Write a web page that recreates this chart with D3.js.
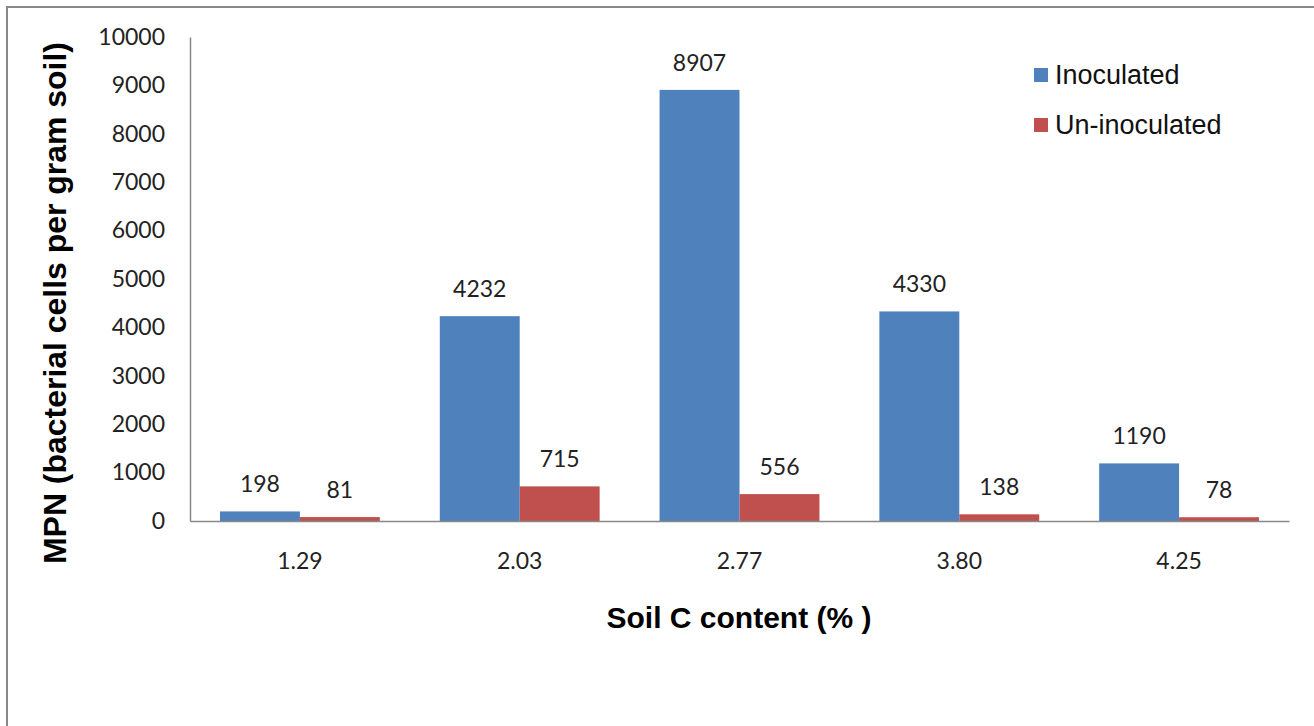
<!DOCTYPE html>
<html>
<head>
<meta charset="utf-8">
<script src="https://cdn.jsdelivr.net/npm/d3@7"></script>
<style>
  html, body { margin: 0; padding: 0; background: #fff; }
  svg { display: block; }
</style>
</head>
<body>
<div id="chart"></div>
<script>
const w = 1314, h = 726;
const categories = ["1.29", "2.03", "2.77", "3.80", "4.25"];
const seriesNames = ["Inoculated", "Un-inoculated"];
const inoculated = [198, 4232, 8907, 4330, 1190];
const uninoculated = [81, 715, 556, 138, 78];
const yTicks = [0, 1000, 2000, 3000, 4000, 5000, 6000, 7000, 8000, 9000, 10000];
const colors = ["#4f81bd", "#c0504d"];

const plot = { left: 190, right: 1289, top: 37, bottom: 521 };
const numFont = "Lato, 'Open Sans', sans-serif";
const txtFont = "'Liberation Sans', Arial, sans-serif";

const rows = categories.map((c, i) => ({ cat: c, values: [inoculated[i], uninoculated[i]] }));

const svg = d3.select("#chart").append("svg").attr("width", w).attr("height", h);

// chart-area border (right & bottom run off the picture)
svg.append("rect")
  .attr("x", 7).attr("y", 7)
  .attr("width", w + 20).attr("height", h + 20)
  .attr("fill", "none").attr("stroke", "#888").attr("stroke-width", 2);

const x0 = d3.scaleBand().domain(categories)
  .range([plot.left, plot.right])
  .paddingInner(0.2727).paddingOuter(0.1364);
const x1 = d3.scaleBand().domain(seriesNames).range([0, x0.bandwidth()]);
const y = d3.scaleLinear().domain([0, 10000]).range([plot.bottom, plot.top]);

// bars
const groups = svg.append("g").selectAll("g")
  .data(rows).enter().append("g")
  .attr("transform", (d) => `translate(${x0(d.cat)},0)`);

groups.selectAll("rect")
  .data((d) => d.values.map((v, i) => ({ v, s: seriesNames[i], i })))
  .enter().append("rect")
  .attr("x", (d) => x1(d.s))
  .attr("width", x1.bandwidth())
  .attr("y", (d) => y(d.v))
  .attr("height", (d) => y(0) - y(d.v))
  .attr("fill", (d) => colors[d.i]);

groups.selectAll("text")
  .data((d) => d.values.map((v, i) => ({ v, s: seriesNames[i] })))
  .enter().append("text")
  .attr("x", (d) => x1(d.s) + x1.bandwidth() / 2)
  .attr("y", (d) => y(d.v) - 19)
  .attr("text-anchor", "middle")
  .style("font-family", numFont).style("font-size", "23px").attr("fill", "#222")
  .text((d) => d.v);

// y axis
const yAxis = svg.append("g")
  .attr("transform", `translate(${plot.left},0)`)
  .call(d3.axisLeft(y).tickValues(yTicks).tickSize(0).tickPadding(25).tickFormat(d3.format("d")));
yAxis.select(".domain").attr("stroke", "#888").attr("stroke-width", 1.5);
yAxis.selectAll("text").style("font-family", numFont).style("font-size", "23px").attr("fill", "#222");

// x axis
const xAxis = svg.append("g")
  .attr("transform", `translate(0,${plot.bottom})`)
  .call(d3.axisBottom(x0).tickSize(0).tickPadding(32).tickSizeOuter(0));
xAxis.select(".domain").attr("stroke", "#888").attr("stroke-width", 1.5);
xAxis.selectAll("text").style("font-family", numFont).style("font-size", "23px").attr("fill", "#222");

// axis titles
svg.append("text")
  .attr("x", 739).attr("y", 628)
  .attr("text-anchor", "middle")
  .style("font-family", txtFont).style("font-size", "30px").style("font-weight", "bold")
  .text("Soil C content (% )");

svg.append("text")
  .attr("transform", "translate(66,303) rotate(-90)")
  .attr("text-anchor", "middle")
  .style("font-family", txtFont).style("font-size", "31px").style("font-weight", "bold")
  .attr("textLength", 522).attr("lengthAdjust", "spacingAndGlyphs")
  .text("MPN (bacterial cells per gram soil)");

// legend
const legend = svg.append("g").attr("transform", "translate(1034,68)");
const items = legend.selectAll("g").data(seriesNames).enter().append("g")
  .attr("transform", (d, i) => `translate(0,${i * 50})`);
items.append("rect").attr("width", 14).attr("height", 14).attr("fill", (d, i) => colors[i]);
items.append("text")
  .attr("x", 21).attr("y", 16)
  .style("font-family", txtFont).style("font-size", "27px").attr("fill", "#111")
  .text((d) => d);
</script>
</body>
</html>
